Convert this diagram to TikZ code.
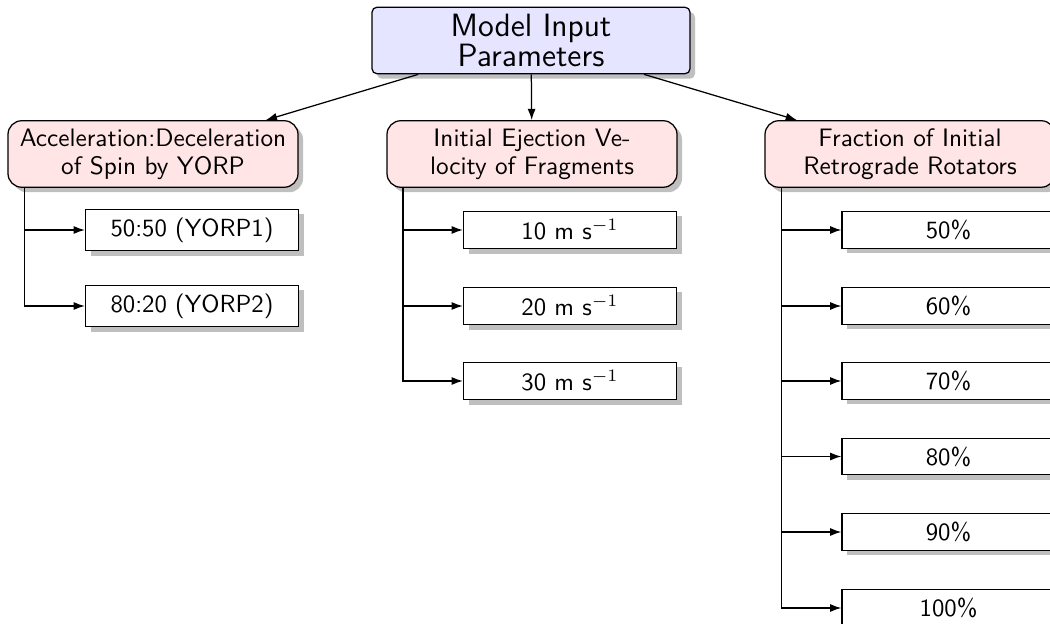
\documentclass[tikz,border=0pt]{standalone}
\usepackage{fontspec}
\usetikzlibrary{shadows,arrows.meta}
\begin{document}
\begin{tikzpicture}[x=0.4pt,y=-0.4pt,
  shad/.style={drop shadow={shadow xshift=2pt,shadow yshift=-2pt}},
  topbox/.style={draw=black, line width=0.5pt, fill=blue!10, rounded corners=2pt, shad,
    minimum width=127.2pt, minimum height=26.6pt, align=center, inner sep=0pt,
    font=\sffamily\fontsize{12.9}{12}\selectfont},
  catbox/.style={draw=black, line width=0.5pt, fill=red!10, rounded corners=5.5pt, shad,
    minimum width=116pt, minimum height=26.6pt, align=center, inner sep=0pt,
    font=\sffamily\fontsize{10.1}{11.2}\selectfont},
  leafbox/.style={draw=black, line width=0.5pt, fill=white, shad, minimum width=85.2pt,
    align=center, font=\sffamily\fontsize{9.9}{11.8}\selectfont},
  conn/.style={line width=0.5pt, -{Latex[length=4.5pt,width=3.2pt]}}]
\useasboundingbox (0,0) rectangle (1050,624);
\clip (0,0) rectangle (1050,624);

\node[topbox] (top) at (531,40.5) {Model Input\\Parameters};

\node[catbox] (c1) at (153,154) {Acceleration:Deceleration\\of Spin by YORP};
\node[catbox] (c2) at (532,154) {Initial Ejection Ve-\\locity of Fragments};
\node[catbox] (c3) at (910,154) {Fraction of Initial\\Retrograde Rotators};

\node[leafbox] (l1a) at (192,230) {50:50 (YORP1)};
\node[leafbox] (l1b) at (192,306) {80:20 (YORP2)};

\node[leafbox] (l2a) at (570,230) {10 m s$^{-1}$};
\node[leafbox] (l2b) at (570,306) {20 m s$^{-1}$};
\node[leafbox] (l2c) at (570,381) {30 m s$^{-1}$};

\node[leafbox] (l3a) at (948.5,230) {50\%};
\node[leafbox] (l3b) at (948.5,306) {60\%};
\node[leafbox] (l3c) at (948.5,381) {70\%};
\node[leafbox] (l3d) at (948.5,456.5) {80\%};
\node[leafbox] (l3e) at (948.5,532) {90\%};
\node[leafbox] (l3f) at (948.5,608) {100\%};

\draw[conn] (top) -- (c1);
\draw[conn] (top) -- (c2);
\draw[conn] (top) -- (c3);

\coordinate (s1) at ([xshift=7pt]c1.south west);
\coordinate (s2) at ([xshift=6.6pt]c2.south west);
\coordinate (s3) at ([xshift=6.8pt]c3.south west);

\draw[conn] (s1) |- (l1a.west);
\draw[conn] (s1) |- (l1b.west);
\draw[conn] (s2) |- (l2a.west);
\draw[conn] (s2) |- (l2b.west);
\draw[conn] (s2) |- (l2c.west);
\draw[conn] (s3) |- (l3a.west);
\draw[conn] (s3) |- (l3b.west);
\draw[conn] (s3) |- (l3c.west);
\draw[conn] (s3) |- (l3d.west);
\draw[conn] (s3) |- (l3e.west);
\draw[conn] (s3) |- (l3f.west);
\end{tikzpicture}
\end{document}
